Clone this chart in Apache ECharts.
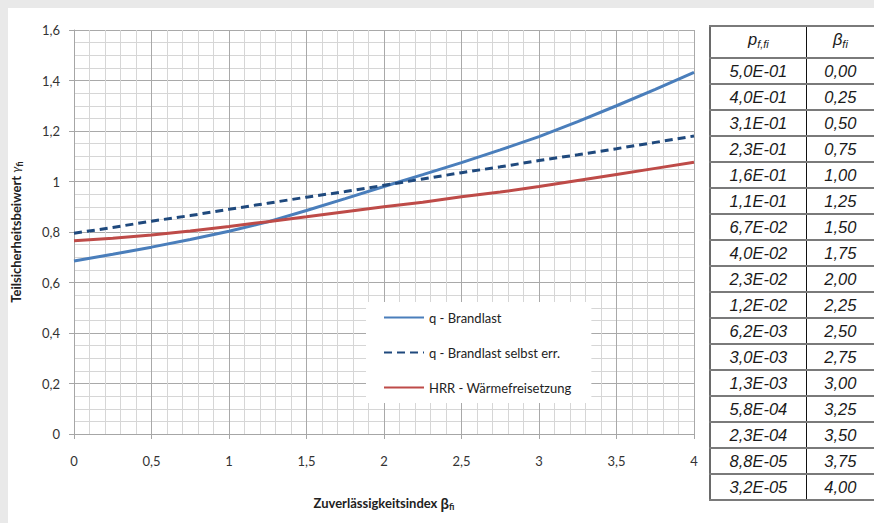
<!DOCTYPE html>
<html>
<head>
<meta charset="utf-8">
<script src="https://cdn.jsdelivr.net/npm/echarts@6/dist/echarts.min.js"></script>
<style>
html,body{margin:0;padding:0;background:#e9e9e9;}
#wrap{position:relative;width:874px;height:523px;overflow:hidden;background:#e9e9e9;}
#panel{position:absolute;left:8px;top:8px;width:866px;height:515px;background:#fff;}
#chart{position:absolute;left:0;top:0;width:874px;height:523px;}
#tbl{position:absolute;left:709px;top:25px;border-collapse:collapse;font-family:"Liberation Sans",Arial,sans-serif;font-style:italic;font-size:16.5px;color:#1a1a1a;}
#tbl td,#tbl th{padding:0;text-align:center;border-top:2px solid #7a7a7a;border-bottom:2px solid #7a7a7a;height:24px;line-height:24px;font-weight:normal;}
#tbl th{height:25px;line-height:25px;}
#tbl td.c1,#tbl th.c1{width:96px;border-left:2px solid #6a6a6a;border-right:1px solid #111;}
#tbl td.c2,#tbl th.c2{width:68px;}
#tbl sub{font-size:11px;vertical-align:-3px;}
</style>
</head>
<body>
<div id="wrap">
<div id="panel"></div>
<div id="chart"></div>
<table id="tbl"></table>
</div>
<script>
// ---- data ----
const betaValues = [0,0.25,0.5,0.75,1,1.25,1.5,1.75,2,2.25,2.5,2.75,3,3.25,3.5,3.75,4];
const seriesNames = ['q - Brandlast','q - Brandlast selbst err.','HRR - Wärmefreisetzung'];
const qBrandlast = [0.685,0.712,0.740,0.770,0.803,0.840,0.885,0.932,0.980,1.027,1.075,1.125,1.178,1.237,1.300,1.365,1.432];
const qSelbst    = [0.795,0.818,0.843,0.865,0.890,0.914,0.938,0.960,0.985,1.010,1.035,1.058,1.083,1.106,1.130,1.155,1.180];
const hrr        = [0.765,0.775,0.788,0.804,0.822,0.841,0.860,0.880,0.900,0.918,0.940,0.958,0.980,1.004,1.028,1.052,1.076];
const tableP     = ['5,0E-01','4,0E-01','3,1E-01','2,3E-01','1,6E-01','1,1E-01','6,7E-02','4,0E-02','2,3E-02','1,2E-02','6,2E-03','3,0E-03','1,3E-03','5,8E-04','2,3E-04','8,8E-05','3,2E-05'];
const tableBeta  = ['0,00','0,25','0,50','0,75','1,00','1,25','1,50','1,75','2,00','2,25','2,50','2,75','3,00','3,25','3,50','3,75','4,00'];

// ---- table ----
const tbl = document.getElementById('tbl');
let html = '<tr><th class="c1">p<sub>f,fi</sub></th><th class="c2">&beta;<sub>fi</sub></th></tr>';
for (let i = 0; i < tableP.length; i++) {
  html += '<tr><td class="c1">' + tableP[i] + '</td><td class="c2">' + tableBeta[i] + '</td></tr>';
}
tbl.innerHTML = html;

// ---- chart ----
const fmt = v => String(+v.toFixed(2)).replace('.', ',');
const font = 'Lato, "Open Sans", sans-serif';
const chart = echarts.init(document.getElementById('chart'), null, {renderer: 'svg'});
const mk = (arr) => betaValues.map((b, i) => [b, arr[i]]);
chart.setOption({
  animation: false,
  grid: {left: 74, right: 180, top: 30, bottom: 89},
  legend: {
    orient: 'vertical', left: 366, top: 302,
    backgroundColor: '#fff', padding: [9, 20, 9, 17],
    itemWidth: 40, itemHeight: 14, itemGap: 22,
    itemStyle: {opacity: 0},
    textStyle: {fontFamily: font, fontSize: 13, color: '#222'},
    data: seriesNames
  },
  xAxis: {
    type: 'value', min: 0, max: 4, interval: 0.5,
    axisLine: {show: true, lineStyle: {color: '#a6a6a6'}},
    axisTick: {show: true, length: 5, lineStyle: {color: '#a6a6a6'}},
    axisLabel: {formatter: fmt, fontFamily: font, fontSize: 13, color: '#333', margin: 20},
    splitLine: {show: true, lineStyle: {color: '#a9a9a9', width: 1}},
    minorTick: {show: false, splitNumber: 5},
    minorSplitLine: {show: true, lineStyle: {color: '#d6d6d6', width: 1}},
    name: '{a|Zuverlässigkeitsindex }{b|β}{s|fi}',
    nameLocation: 'middle', nameGap: 60,
    nameTextStyle: {rich: {
      a: {fontFamily: font, fontSize: 13, fontWeight: 'bold', color: '#222'},
      b: {fontFamily: font, fontSize: 15, fontWeight: 'bold', color: '#222'},
      s: {fontFamily: font, fontSize: 9, fontWeight: 'bold', color: '#222', padding: [8, 0, 0, 0]}
    }}
  },
  yAxis: {
    type: 'value', min: 0, max: 1.6, interval: 0.2,
    axisLine: {show: true, lineStyle: {color: '#a6a6a6'}},
    axisTick: {show: true, length: 5, lineStyle: {color: '#a6a6a6'}},
    axisLabel: {formatter: fmt, fontFamily: font, fontSize: 13, color: '#333', margin: 14},
    splitLine: {show: true, lineStyle: {color: '#a9a9a9', width: 1}},
    minorTick: {show: false, splitNumber: 4},
    minorSplitLine: {show: true, lineStyle: {color: '#d6d6d6', width: 1}},
    name: '{a|Teilsicherheitsbeiwert }{g|γ}{s|fi}',
    nameLocation: 'middle', nameGap: 50, nameRotate: 90,
    nameTextStyle: {rich: {
      a: {fontFamily: font, fontSize: 13, fontWeight: 'bold', color: '#222'},
      g: {fontFamily: font, fontSize: 12, fontStyle: 'italic', color: '#222'},
      s: {fontFamily: font, fontSize: 9, fontWeight: 'bold', color: '#222', padding: [8, 0, 0, 0]}
    }}
  },
  series: [
    {name: seriesNames[0], type: 'line', data: mk(qBrandlast), symbol: 'none', smooth: false,
     lineStyle: {color: '#4a7ebb', width: 3}, itemStyle: {color: '#4a7ebb'}},
    {name: seriesNames[1], type: 'line', data: mk(qSelbst), symbol: 'none',
     lineStyle: {color: '#1f497d', width: 3, type: [8, 5]}, itemStyle: {color: '#1f497d'}},
    {name: seriesNames[2], type: 'line', data: mk(hrr), symbol: 'none',
     lineStyle: {color: '#be4b48', width: 3}, itemStyle: {color: '#be4b48'}}
  ]
});
</script>
</body>
</html>
